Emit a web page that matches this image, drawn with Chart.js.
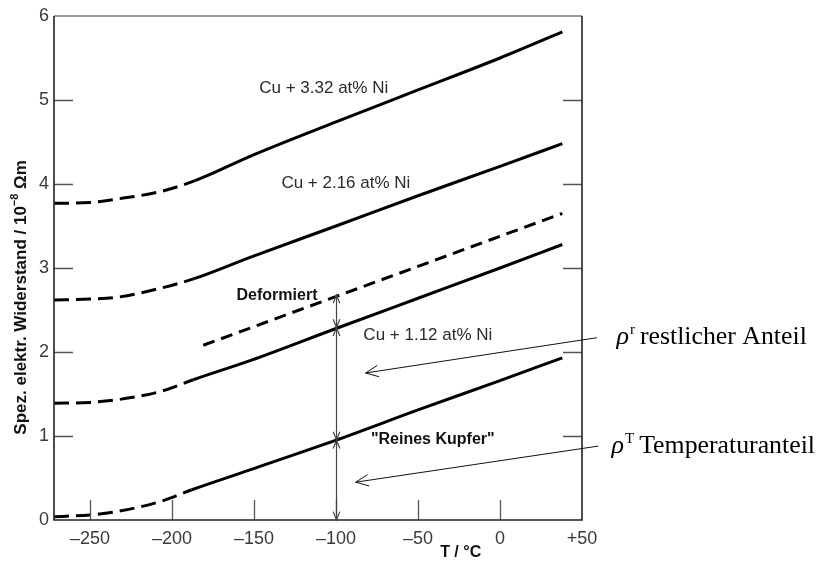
<!DOCTYPE html>
<html>
<head>
<meta charset="utf-8">
<script src="https://cdn.jsdelivr.net/npm/chart.js@4.4.1/dist/chart.umd.min.js"></script>
<style>
  html, body { margin:0; padding:0; background:#fff; }
  #wrap { width:820px; height:562px; }
</style>
</head>
<body>
<div id="wrap"><canvas id="chart" width="820" height="562"></canvas></div>
<script>
// Spez. elektr. Widerstand von Cu / Cu-Ni vs. Temperatur
// Values.

const X_MIN = -272, X_MAX = 50;
const Y_MIN = 0, Y_MAX = 6;
const X_TICKS = [-250, -200, -150, -100, -50, 0, 50];
const Y_TICKS = [0, 1, 2, 3, 4, 5, 6];

// Cu + 3.32 at% Ni (dashed up to DASH_END)
const T_332 = [-272, -250, -234, -207, -186, -150, -100, -50, 0, 38];
const R_332 = [3.77, 3.78, 3.82, 3.91, 4.04, 4.35, 4.74, 5.12, 5.50, 5.81];
const DASH_END_332 = -186;

// Cu + 2.16 at% Ni
const T_216 = [-272, -250, -234, -207, -187, -152, -100, -50, 0, 38];
const R_216 = [2.62, 2.63, 2.65, 2.76, 2.87, 3.13, 3.50, 3.86, 4.21, 4.48];
const DASH_END_216 = -187;

// Deformiert (all dashed)
const T_DEF = [-181, 38];
const R_DEF = [2.08, 3.65];

// Cu + 1.12 at% Ni
const T_112 = [-272, -250, -234, -207, -187, -152, -100, -50, 0, 38];
const R_112 = [1.39, 1.40, 1.43, 1.53, 1.67, 1.90, 2.28, 2.64, 3.00, 3.28];
const DASH_END_112 = -187;

// "Reines Kupfer"
const T_CU = [-272, -250, -234, -207, -188, -152, -100, -50, 0, 38];
const R_CU = [0.04, 0.06, 0.10, 0.22, 0.36, 0.60, 0.95, 1.31, 1.66, 1.93];
const DASH_END_CU = -188;

// double arrow at T = -100 °C, split at the curves
const ARROW_T = -100;
const ARROW_LEVELS = [0, 0.95, 2.29, 2.68];

// pointer arrows to the right-hand labels (from, to) in data units
const POINTER_FROM = [[59, 2.17], [60, 0.88]];
const POINTER_TO = [[-82, 1.75], [-88, 0.45]];

// curve labels
const CURVE_LABELS = ['Cu + 3.32 at% Ni', 'Cu + 2.16 at% Ni', 'Deformiert', 'Cu + 1.12 at% Ni', '"Reines Kupfer"'];
const CURVE_LABEL_T = [-107.5, -94, -136, -44, -41];
const CURVE_LABEL_R = [5.14, 4.01, 2.67, 2.20, 0.96];
const CURVE_LABEL_BOLD = [false, false, true, false, true];

// right-hand labels: superscript + text
const RHO_SUP = ['r', 'T'];
const RHO_TEXT = ['restlicher Anteil', 'Temperaturanteil'];
const RHO_T = [71, 68];
const RHO_R = [2.10, 0.80];

const pts = (xs, ys) => xs.map((x, i) => ({ x, y: ys[i] }));

// one dataset per curve; segments below dashEnd are dashed
function curve(xs, ys, dashEnd, dash) {
  return {
    data: pts(xs, ys),
    borderColor: '#000',
    borderWidth: 3,
    pointRadius: 0,
    fill: false,
    cubicInterpolationMode: 'monotone',
    borderCapStyle: 'butt',
    segment: {
      borderDash: c => c.p1.parsed.x <= dashEnd ? dash : []
    }
  };
}

function arrowHead(ctx, tx, ty, fx, fy, len, ang) {
  const th = Math.atan2(fy - ty, fx - tx);
  ctx.beginPath();
  ctx.moveTo(tx + len * Math.cos(th - ang), ty + len * Math.sin(th - ang));
  ctx.lineTo(tx, ty);
  ctx.lineTo(tx + len * Math.cos(th + ang), ty + len * Math.sin(th + ang));
  ctx.stroke();
}

const decor = {
  id: 'decor',
  afterDatasetsDraw(chart) {
    const ctx = chart.ctx, a = chart.chartArea;
    const xs = chart.scales.x, ys = chart.scales.y;
    const X = v => xs.getPixelForValue(v), Y = v => ys.getPixelForValue(v);
    ctx.save();

    // inward ticks
    ctx.strokeStyle = '#555';
    ctx.lineWidth = 1.3;
    ctx.beginPath();
    X_TICKS.forEach(v => {
      if (v > X_MIN && v < X_MAX) {
        const px = Math.round(X(v)) + 0.5;
        ctx.moveTo(px, a.bottom); ctx.lineTo(px, a.bottom - 20);
      }
    });
    Y_TICKS.forEach(v => {
      if (v > Y_MIN && v < Y_MAX) {
        const py = Math.round(Y(v)) + 0.5;
        ctx.moveTo(a.left, py); ctx.lineTo(a.left + 19, py);
        ctx.moveTo(a.right, py); ctx.lineTo(a.right - 19, py);
      }
    });
    ctx.stroke();

    // frame
    ctx.lineWidth = 1.6;
    ctx.strokeStyle = '#777';
    ctx.beginPath(); ctx.moveTo(a.left, a.top); ctx.lineTo(a.right, a.top); ctx.stroke();
    ctx.strokeStyle = '#222';
    ctx.beginPath();
    ctx.moveTo(a.left, a.top); ctx.lineTo(a.left, a.bottom); ctx.lineTo(a.right, a.bottom); ctx.lineTo(a.right, a.top);
    ctx.stroke();

    // double arrows at T = -100
    ctx.strokeStyle = '#444';
    ctx.lineWidth = 1.2;
    const ax = Math.round(X(ARROW_T)) + 0.5;
    ctx.beginPath();
    ctx.moveTo(ax, Y(ARROW_LEVELS[0])); ctx.lineTo(ax, Y(ARROW_LEVELS[ARROW_LEVELS.length - 1]));
    ctx.stroke();
    for (let i = 0; i < ARROW_LEVELS.length - 1; i++) {
      const y0 = Y(ARROW_LEVELS[i]), y1 = Y(ARROW_LEVELS[i + 1]);
      arrowHead(ctx, ax, y0, ax, y1, 9, 0.38);
      arrowHead(ctx, ax, y1, ax, y0, 9, 0.38);
    }

    // pointer arrows
    ctx.strokeStyle = '#111';
    ctx.lineWidth = 1;
    for (let i = 0; i < POINTER_FROM.length; i++) {
      const fx = X(POINTER_FROM[i][0]), fy = Y(POINTER_FROM[i][1]);
      const tx = X(POINTER_TO[i][0]), ty = Y(POINTER_TO[i][1]);
      ctx.beginPath(); ctx.moveTo(fx, fy); ctx.lineTo(tx, ty); ctx.stroke();
      arrowHead(ctx, tx, ty, fx, fy, 14, 0.42);
    }

    // curve labels
    ctx.textAlign = 'center';
    ctx.textBaseline = 'middle';
    CURVE_LABELS.forEach((t, i) => {
      ctx.fillStyle = CURVE_LABEL_BOLD[i] ? '#111' : '#2a2a2a';
      ctx.font = CURVE_LABEL_BOLD[i] ? 'bold 16px "Liberation Sans", Arial, sans-serif'
                                     : '17px "Liberation Sans", Arial, sans-serif';
      ctx.fillText(t, X(CURVE_LABEL_T[i]), Y(CURVE_LABEL_R[i]));
    });

    // rho labels (serif)
    ctx.textAlign = 'left';
    ctx.textBaseline = 'alphabetic';
    ctx.fillStyle = '#000';
    RHO_TEXT.forEach((t, i) => {
      let x = X(RHO_T[i]);
      const yb = Y(RHO_R[i]);
      ctx.font = 'italic 26px "Liberation Serif", "Times New Roman", serif';
      ctx.fillText('\u03C1', x, yb);
      x += ctx.measureText('\u03C1').width + 1;
      ctx.font = '15px "Liberation Serif", "Times New Roman", serif';
      ctx.fillText(RHO_SUP[i], x, yb - 10);
      x += ctx.measureText(RHO_SUP[i]).width + 5;
      ctx.font = '25.8px "Liberation Serif", "Times New Roman", serif';
      ctx.fillText(t, x, yb);
    });

    // x axis title
    ctx.fillStyle = '#111';
    ctx.font = 'bold 16px "Liberation Sans", Arial, sans-serif';
    ctx.textAlign = 'center';
    ctx.textBaseline = 'middle';
    ctx.fillText('T / \u00B0C', X(-24), a.bottom + 33);

    // y axis title (rotated, with superscript)
    const parts = [
      { t: 'Spez. elektr. Widerstand / 10', f: 'bold 17px "Liberation Sans", Arial, sans-serif', dy: 0 },
      { t: '\u22128', f: 'bold 11px "Liberation Sans", Arial, sans-serif', dy: -6 },
      { t: ' \u03A9m', f: 'bold 17px "Liberation Sans", Arial, sans-serif', dy: 0 }
    ];
    let total = 0;
    parts.forEach(p => { ctx.font = p.f; p.w = ctx.measureText(p.t).width; total += p.w; });
    ctx.translate(a.left - 33, Y(2.65));
    ctx.rotate(-Math.PI / 2);
    ctx.textAlign = 'left';
    let cx = -total / 2;
    parts.forEach(p => { ctx.font = p.f; ctx.fillText(p.t, cx, p.dy); cx += p.w; });

    ctx.restore();
  }
};

const DASH_LONG = [15, 7];
const DASH_DEF = [12, 7];

new Chart(document.getElementById('chart'), {
  type: 'line',
  data: {
    datasets: [
      curve(T_332, R_332, DASH_END_332, DASH_LONG),
      curve(T_216, R_216, DASH_END_216, DASH_LONG),
      curve(T_DEF, R_DEF, Infinity, DASH_DEF),
      curve(T_112, R_112, DASH_END_112, DASH_LONG),
      curve(T_CU, R_CU, DASH_END_CU, DASH_LONG)
    ]
  },
  options: {
    responsive: false,
    animation: false,
    layout: { padding: { left: 0, right: 238, top: 16, bottom: 0 } },
    plugins: { legend: { display: false }, tooltip: { enabled: false } },
    scales: {
      x: {
        type: 'linear',
        min: X_MIN, max: X_MAX,
        afterBuildTicks: s => { s.ticks = X_TICKS.map(v => ({ value: v })); },
        afterFit: s => { s.height = 42; },
        grid: { display: false, drawTicks: false },
        border: { display: false },
        ticks: {
          padding: 8,
          color: '#3a3a3a',
          font: { family: '"Liberation Sans", Arial, sans-serif', size: 18 },
          maxRotation: 0,
          autoSkip: false,
          callback: v => v > 0 ? '+' + v : v < 0 ? '\u2013' + (-v) : '0'
        }
      },
      y: {
        min: Y_MIN, max: Y_MAX,
        afterBuildTicks: s => { s.ticks = Y_TICKS.map(v => ({ value: v })); },
        afterFit: s => { s.width = 54; },
        grid: { display: false, drawTicks: false },
        border: { display: false },
        ticks: {
          padding: 5,
          color: '#3a3a3a',
          font: { family: '"Liberation Sans", Arial, sans-serif', size: 18 }
        }
      }
    }
  },
  plugins: [decor]
});
</script>
</body>
</html>
